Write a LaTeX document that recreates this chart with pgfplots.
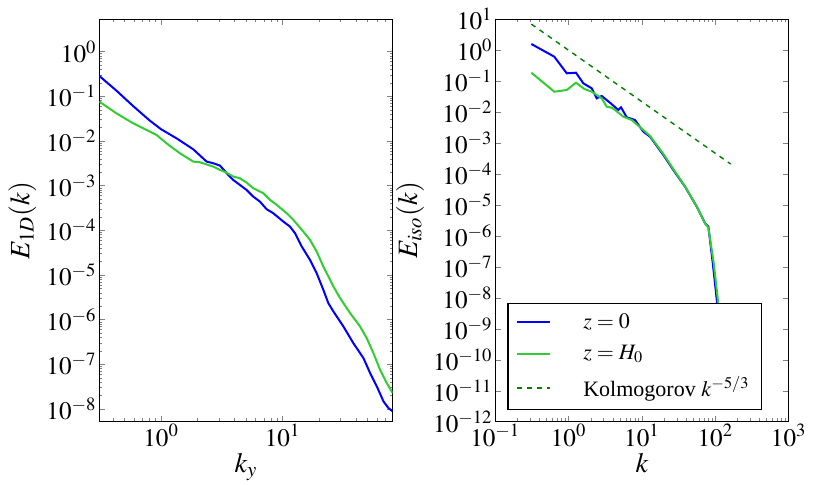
\documentclass[border=0pt]{standalone}
\usepackage{mathptmx}
\usepackage{fontspec}
\setmainfont{Liberation Serif}
\usepackage{pgfplots}
\pgfplotsset{compat=1.18}
\definecolor{cblue}{RGB}{0,0,255}
\definecolor{cgreen}{RGB}{50,205,50}
\definecolor{kgreen}{RGB}{0,128,0}
\begin{document}
\begin{tikzpicture}
\begin{axis}[
  xmode=log, ymode=log, scale only axis,
  width=146.7pt, height=201.2pt,
  tick align=inside,
  major tick length=3pt, minor tick length=1.6pt,
  tick label style={font=\fontsize{12.6}{15}\selectfont, inner sep=1.2pt},
  axis line style={black, line width=0.6pt},
  at={(49.65pt,31.65pt)}, anchor=south west,
  xmin=0.31, xmax=80.5, ymin=5.2e-9, ymax=5.3,
  xtick={1,10},
  minor xtick={0.4,0.5,0.6,0.7,0.8,0.9,2,3,4,5,6,7,8,9,20,30,40,50,60,70,80},
  ytick={1e-8,1e-7,1e-6,1e-5,1e-4,1e-3,1e-2,1e-1,1},
  xlabel={$k_y$}, ylabel={$E_{1D}(k)$},
  xlabel style={at={(axis description cs:0.5,-0.1252)}, anchor=base, font=\fontsize{14}{16}\selectfont},
  ylabel style={at={(axis description cs:-0.2618,0.5)}, anchor=center, font=\fontsize{14}{16}\selectfont},
]
\addplot[cblue, line width=1pt] coordinates {
(0.31,0.2858) (0.4285,0.1343) (0.5875,0.0608) (0.807,0.02858) (1,0.01832)
(1.337,0.01151) (1.837,0.006531) (2.366,0.003459) (2.685,0.003177) (3.048,0.002818)
(3.565,0.001742) (3.917,0.001346) (5.047,8.035e-4) (5.728,5.70e-4) (6.501,4.406e-4)
(7.379,2.972e-4) (8.375,2.415e-4) (10.12,1.574e-4) (11.48,1.216e-4) (12.65,8.63e-5)
(14.36,4.345e-5) (16.79,2.183e-5) (19.05,1.099e-5) (21.63,4.656e-6) (23.77,2.344e-6)
(26.18,1.524e-6) (31.62,7.047e-7) (38.19,2.985e-7) (46.24,1.380e-7) (52.48,6.368e-8)
(59.57,3.206e-8) (67.61,1.479e-8) (74.30,1.05e-8) (80.5,8.83e-9)
};
\addplot[cgreen, line width=1pt] coordinates {
(0.31,0.07603) (0.4285,0.04169) (0.5875,0.02495) (0.916,0.01368) (1.107,0.008892)
(1.426,0.005321) (1.837,0.003459) (2.084,0.003342) (2.685,0.002673) (3.048,0.002254)
(3.451,0.001963) (3.917,0.00160) (4.446,0.001466) (5.047,0.001172) (5.728,8.770e-4)
(6.934,6.776e-4) (7.870,4.808e-4) (8.933,3.715e-4) (10.79,2.415e-4) (12.25,1.714e-4)
(14.79,9.397e-5) (16.79,6.124e-5) (19.05,3.357e-5) (21.63,1.549e-5) (26.18,5.534e-6)
(29.72,3.034e-6) (35.89,1.400e-6) (43.35,7.047e-7) (49.20,3.864e-7) (55.85,1.782e-7)
(63.39,7.551e-8) (71.94,3.802e-8) (80.5,2.270e-8)
};
\end{axis}
\begin{axis}[
  xmode=log, ymode=log, scale only axis,
  width=146.7pt, height=201.2pt,
  tick align=inside,
  major tick length=3pt, minor tick length=1.6pt,
  tick label style={font=\fontsize{12.6}{15}\selectfont, inner sep=1.2pt},
  axis line style={black, line width=0.6pt},
  at={(247.65pt,31.65pt)}, anchor=south west,
  xmin=0.1, xmax=1000, ymin=1e-12, ymax=10,
  xtick={0.1,1,10,100,1000},
  ytick={1e-12,1e-11,1e-10,1e-9,1e-8,1e-7,1e-6,1e-5,1e-4,1e-3,1e-2,1e-1,1,10},
  yminorticks=false,
  xlabel={$k$}, ylabel={$E_{iso}(k)$},
  xlabel style={at={(axis description cs:0.5,-0.1252)}, anchor=base, font=\fontsize{14}{16}\selectfont},
  ylabel style={at={(axis description cs:-0.2904,0.5)}, anchor=center, font=\fontsize{14}{16}\selectfont},
  legend cell align=left,
  legend image code/.code={\draw[#1] (0pt,0pt) -- (16.7pt,0pt);},
  legend style={at={(rel axis cs:0.041,0.029)}, anchor=south west,
    draw=black, line width=0.6pt, fill=white,
    font=\fontsize{11}{13}\selectfont,
    inner xsep=4pt, inner ysep=3pt, row sep=3pt,
    /tikz/every odd column/.append style={column sep=14pt}},
]
\addplot[cblue, line width=1pt] coordinates {
(0.31,1.592) (0.638,0.619) (0.942,0.180) (1.259,0.188) (1.585,0.0855) (2.065,0.0589)
(2.415,0.0280) (2.825,0.0333) (3.664,0.0202) (4.753,0.01175) (5.176,0.01432)
(6.194,0.00681) (8.035,0.00557) (10.42,0.002344) (12.88,0.001611) (19.54,4.13e-4)
(26.73,1.352e-4) (38.64,3.90e-5) (55.85,8.81e-6) (72.44,2.564e-6) (80.35,2.0e-6)
(92.3,1.31e-7) (104.7,8.5e-9) (113,3.2e-11)
};
\addlegendentry{$z=0$}
\addplot[cgreen, line width=1pt] coordinates {
(0.31,0.188) (0.638,0.0458) (0.942,0.0520) (1.259,0.0895) (1.637,0.0560) (2.065,0.0458)
(2.825,0.0280) (3.304,0.0150) (3.864,0.01393) (4.285,0.01175) (5.572,0.00713)
(7.244,0.00557) (10.42,0.002649) (12.88,0.0017) (19.54,4.47e-4) (26.73,1.445e-4)
(38.64,3.98e-5) (55.85,8.91e-6) (72.44,2.51e-6) (80.35,1.86e-6) (95.1,1.31e-7)
(108.4,8.5e-9) (117.5,3.2e-11)
};
\addlegendentry{$z=H_0$}
\addplot[draw=kgreen, color=kgreen, line width=0.7pt, dash pattern=on 2.5pt off 2.5pt] coordinates {
(0.31,7.0) (162,2.1e-4)
};
\addlegendentry{Kolmogorov $k^{-5/3}$}
\end{axis}
\pgfresetboundingbox
\path[use as bounding box] (0,0) rectangle (415pt,242.5pt);
\end{tikzpicture}
\end{document}
